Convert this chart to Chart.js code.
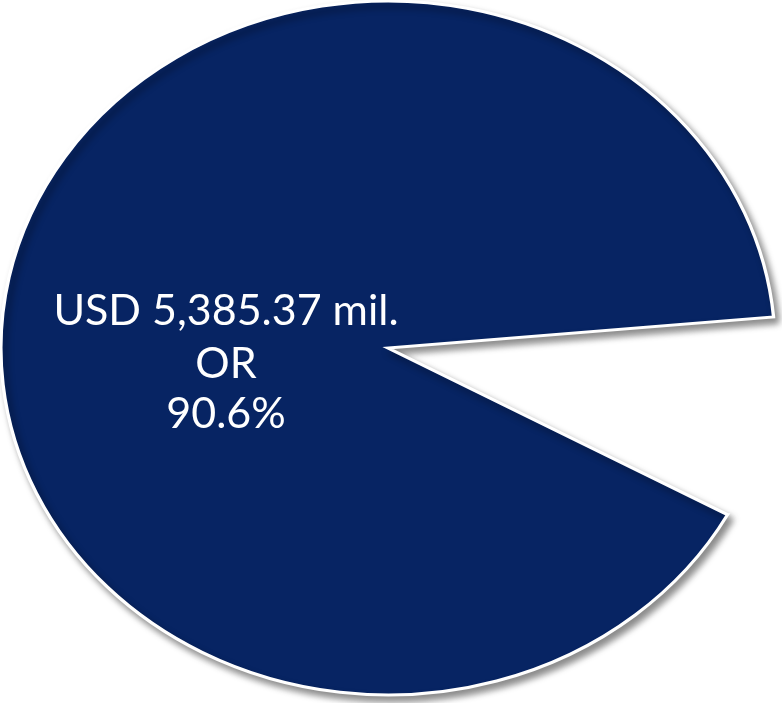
<!DOCTYPE html>
<html>
<head>
    <title>Share pie</title>
    <script src="https://cdn.jsdelivr.net/npm/chart.js"></script>
    <style>
        html, body { margin: 0; padding: 0; background: #ffffff; }
        #wrap { width: 782px; height: 703px; }
    </style>
</head>
<body>
    <div id="wrap"><canvas id="pie"></canvas></div>

    <script>
        // Data
        const segments = ['Share', 'Rest'];
        const sharePct = [90.6, 9.4];
        const amountUsdMil = [5385.37];
        const sliceColors = ['#072463', 'rgba(0,0,0,0)'];
        const sliceBorders = [3, 0];

        // pie is drawn as an ellipse: stretch horizontally around its centre
        const STRETCH_X = 1.1156;

        const ellipsePlugin = {
            id: 'ellipse',
            beforeDatasetsDraw(chart) {
                const arc = chart.getDatasetMeta(0).data[0];
                const ctx = chart.ctx;
                ctx.save();
                ctx.translate(arc.x, arc.y);
                ctx.scale(STRETCH_X, 1);
                ctx.translate(-arc.x, -arc.y);
                ctx.shadowColor = 'rgba(0,0,0,0.45)';
                ctx.shadowBlur = 7;
                ctx.shadowOffsetX = 4;
                ctx.shadowOffsetY = 5;
            },
            afterDatasetsDraw(chart) {
                chart.ctx.restore();
            }
        };

        // centred text on the big slice
        const labelPlugin = {
            id: 'sliceLabel',
            afterDatasetsDraw(chart) {
                const ctx = chart.ctx;
                const lines = [
                    'USD ' + amountUsdMil[0].toLocaleString('en-US', { minimumFractionDigits: 2 }) + ' mil.',
                    'OR',
                    sharePct[0].toFixed(1) + '%'
                ];
                const ys = [311, 364, 414];
                ctx.save();
                ctx.fillStyle = '#ffffff';
                ctx.font = '43px Lato';
                ctx.textAlign = 'center';
                ctx.textBaseline = 'middle';
                lines.forEach((t, i) => ctx.fillText(t, 226, ys[i]));
                ctx.restore();
            }
        };

        new Chart(document.getElementById('pie'), {
            type: 'pie',
            data: {
                labels: segments,
                datasets: [{
                    data: sharePct,
                    backgroundColor: sliceColors,
                    borderColor: '#ffffff',
                    borderWidth: sliceBorders,
                    borderJoinStyle: 'miter'
                }]
            },
            options: {
                responsive: true,
                maintainAspectRatio: false,
                animation: false,
                events: [],
                rotation: 118.7,
                radius: 347,
                layout: { padding: { left: 0, right: 6, top: 0, bottom: 7 } },
                plugins: {
                    legend: { display: false },
                    tooltip: { enabled: false }
                }
            },
            plugins: [ellipsePlugin, labelPlugin]
        });
    </script>
</body>
</html>
